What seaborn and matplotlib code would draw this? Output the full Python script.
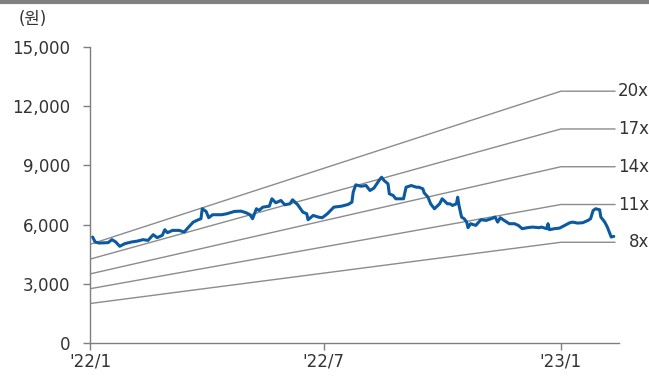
import matplotlib.pyplot as plt
import matplotlib.ticker as mticker
import pandas as pd
import seaborn as sns

# 주가 (원)
price_dates = [
    "2022-01-03", "2022-01-05", "2022-01-08", "2022-01-15", "2022-01-18", "2022-01-21",
    "2022-01-24", "2022-01-28", "2022-02-02", "2022-02-07", "2022-02-11", "2022-02-15",
    "2022-02-19", "2022-02-22", "2022-02-26", "2022-02-28", "2022-03-02", "2022-03-06",
    "2022-03-11", "2022-03-15", "2022-03-18", "2022-03-22", "2022-03-26", "2022-03-28",
    "2022-03-29", "2022-04-01", "2022-04-03", "2022-04-06", "2022-04-13", "2022-04-17",
    "2022-04-23", "2022-04-28", "2022-05-02", "2022-05-05", "2022-05-07", "2022-05-10",
    "2022-05-12", "2022-05-15", "2022-05-20", "2022-05-22", "2022-05-25", "2022-05-29",
    "2022-06-01", "2022-06-05", "2022-06-07", "2022-06-11", "2022-06-15", "2022-06-18",
    "2022-06-19", "2022-06-23", "2022-06-27", "2022-06-30", "2022-07-04", "2022-07-09",
    "2022-07-15", "2022-07-20", "2022-07-23", "2022-07-24", "2022-07-26", "2022-07-30",
    "2022-08-03", "2022-08-06", "2022-08-09", "2022-08-13", "2022-08-15", "2022-08-17",
    "2022-08-20", "2022-08-21", "2022-08-24", "2022-08-26", "2022-08-29", "2022-09-01",
    "2022-09-03", "2022-09-07", "2022-09-11", "2022-09-13", "2022-09-16", "2022-09-17",
    "2022-09-20", "2022-09-22", "2022-09-25", "2022-09-29", "2022-10-01", "2022-10-05",
    "2022-10-07", "2022-10-09", "2022-10-12", "2022-10-13", "2022-10-14", "2022-10-16",
    "2022-10-18", "2022-10-20", "2022-10-21", "2022-10-23", "2022-10-27", "2022-10-31",
    "2022-11-04", "2022-11-08", "2022-11-11", "2022-11-13", "2022-11-15", "2022-11-18",
    "2022-11-22", "2022-11-26", "2022-11-29", "2022-12-02", "2022-12-06", "2022-12-10",
    "2022-12-15", "2022-12-17", "2022-12-21", "2022-12-22", "2022-12-23", "2022-12-27",
    "2022-12-31", "2023-01-04", "2023-01-08", "2023-01-10", "2023-01-14", "2023-01-18",
    "2023-01-22", "2023-01-24", "2023-01-26", "2023-01-28", "2023-01-31", "2023-02-01",
    "2023-02-04", "2023-02-06", "2023-02-08", "2023-02-09", "2023-02-11",
]
price = [
    5370, 5116, 5066, 5085, 5237, 5116,
    4899, 5035, 5116, 5167, 5237, 5200,
    5490, 5338, 5454, 5742, 5591, 5707,
    5707, 5622, 5843, 6126, 6247, 6298,
    6803, 6667, 6348, 6500, 6500, 6550,
    6667, 6682, 6600, 6500, 6298, 6803,
    6717, 6884, 6934, 7308, 7106, 7222,
    7005, 7055, 7257, 7005, 6631, 6550,
    6247, 6465, 6379, 6348, 6550, 6884,
    6934, 7020, 7136, 7641, 8015, 7944,
    7980, 7727, 7845, 8232, 8400, 8232,
    8065, 7560, 7475, 7308, 7308, 7308,
    7894, 7980, 7894, 7894, 7813, 7611,
    7389, 7055, 6803, 7055, 7308, 7055,
    7055, 6970, 7055, 7389, 6970, 6379,
    6298, 6126, 5843, 6045, 5960, 6247,
    6212, 6298, 6379, 6126, 6348, 6212,
    6045, 6045, 5960, 5793, 5843, 5874,
    5843, 5874, 5793, 6045, 5742, 5793,
    5823, 5960, 6096, 6126, 6076, 6096,
    6212, 6298, 6717, 6803, 6752, 6379,
    6126, 5874, 5540, 5370, 5404,
]

# 12M fwd EPS (원)
eps_dates = ["2022-01-01", "2023-01-01", "2023-02-12"]
eps = [250, 638, 638]
multiples = [20, 17, 14, 11, 8]

price_df = pd.DataFrame({"date": pd.to_datetime(price_dates), "price": price})
band_df = pd.DataFrame(
    [
        {"date": pd.Timestamp(d), "band": f"{m}x", "value": e * m}
        for m in multiples
        for d, e in zip(eps_dates, eps)
    ]
)

sns.set_style("white")
plt.rcParams["font.family"] = ["DejaVu Sans", "Noto Sans CJK KR"]

fig = plt.figure(figsize=(6.49, 3.79), dpi=100)
ax = fig.add_axes([0.1387, 0.095, 0.815, 0.781])

sns.lineplot(data=band_df, x="date", y="value", hue="band",
             palette=["#8c8c8c"] * len(multiples), linewidth=1.0,
             legend=False, ax=ax)
sns.lineplot(data=price_df, x="date", y="price", color="#0b5aa0",
             linewidth=2.2, ax=ax)

# 밴드 라벨
for m in multiples:
    ax.text(1.057, eps[-1] * m, f"{m}x", ha="right", va="center",
            fontsize=12, color="#333333",
            transform=ax.get_yaxis_transform())

ax.set_xlim(pd.Timestamp("2022-01-01"), pd.Timestamp("2023-02-15"))
ax.set_ylim(0, 15000)
ax.set_yticks(range(0, 15001, 3000))
ax.yaxis.set_major_formatter(mticker.StrMethodFormatter("{x:,.0f}"))
ax.set_xticks(pd.to_datetime(["2022-01-01", "2022-07-01", "2023-01-01"]))
ax.set_xticklabels(["'22/1", "'22/7", "'23/1"])
ax.set_xlabel("")
ax.set_ylabel("")

for side in ["top", "right"]:
    ax.spines[side].set_visible(False)
for side in ["left", "bottom"]:
    ax.spines[side].set_color("#7f7f7f")
    ax.spines[side].set_linewidth(1.0)
ax.tick_params(axis="y", direction="out", length=5, width=1, color="#7f7f7f",
               pad=9, labelsize=12, labelcolor="#333333")
ax.tick_params(axis="x", direction="out", length=5, width=1, color="#7f7f7f",
               pad=2, labelsize=12, labelcolor="#333333")
ax.tick_params(left=True, bottom=True)

fig.text(0.028, 0.95, "(원)", fontsize=12, color="#333333", va="center")
fig.add_artist(plt.Line2D([0, 1], [0.996, 0.996], transform=fig.transFigure,
                          color="#808080", linewidth=3))

fig.savefig("out.png", dpi=100)
